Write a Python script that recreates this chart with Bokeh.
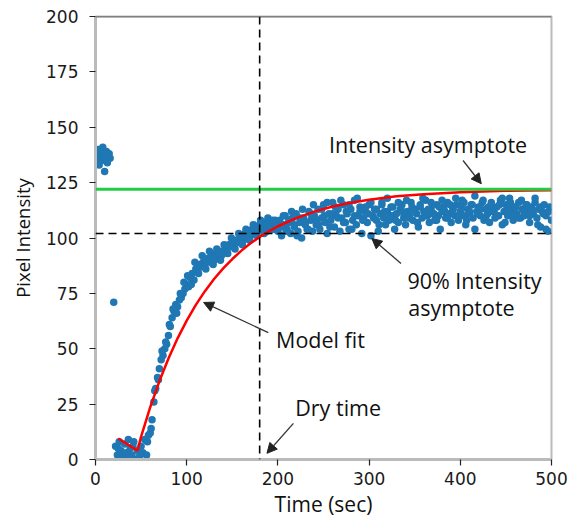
from bokeh.plotting import figure
from bokeh.models import Range1d, FixedTicker, Span, Arrow, NormalHead, Label
from bokeh.embed import file_html
from bokeh.resources import INLINE

# ---- data ----
# initial wet phase (0-20 s)
t_initial = [0, 1, 2, 3, 4, 5, 6, 7, 8, 9, 10, 11, 12, 13, 14, 15, 16, 20]
i_initial = [134, 138, 136, 140, 133, 137, 139, 135, 141, 138, 130, 136, 139, 134, 137, 138, 136, 71]

# lag phase (22-58 s)
t_lag = [22, 24, 26, 28, 30, 32, 34, 36, 38, 40, 42, 44, 46, 48, 50, 52, 54, 56, 58,
         25, 33, 41, 49, 57]
i_lag = [6, 2, 8, 4, 1, 7, 3, 9, 5, 2, 8, 0, 4, 1, 6, 3, 9, 2, 11,
         5, 1, 6, 2, 8]

# rise phase (60-200 s)
t_rise = [60, 62, 64, 66, 68, 70, 72, 74, 76, 78, 80, 82, 84, 86, 88, 90, 92, 94, 96, 98,
          100, 102, 104, 106, 108, 110, 112, 114, 116, 118, 120, 122, 124, 126, 128, 130,
          132, 134, 136, 138, 140, 142, 144, 146, 148, 150, 152, 154, 156, 158, 160, 162,
          164, 166, 168, 170, 172, 174, 176, 178, 180, 182, 184, 186, 188, 190, 192, 194,
          196, 198, 200]
i_rise = [12, 18, 26, 32, 37, 41, 45, 47, 50, 52, 56, 60, 64, 67, 70, 69, 72, 73, 75, 77,
          79, 78, 82, 84, 81, 86, 85, 88, 87, 89, 88, 90, 91, 89, 92, 90,
          93, 91, 94, 92, 93, 95, 94, 97, 96, 98, 97, 99, 98, 100, 101, 99,
          102, 100, 103, 101, 104, 102, 105, 103, 106, 104, 107, 105, 103, 107, 105, 108,
          104, 106, 103]
t_rise_b = [61, 65, 69, 73, 77, 81, 85, 89, 93, 97, 101, 105, 109, 113, 117, 121, 125, 129,
            133, 137, 141, 145, 149, 153, 157, 161, 165, 169, 173, 177, 181, 185, 189, 193, 197]
i_rise_b = [14, 31, 36, 49, 53, 61, 68, 66, 75, 80, 83, 79, 89, 84, 92, 86, 94, 88,
            95, 90, 97, 93, 100, 95, 102, 97, 104, 99, 106, 101, 108, 102, 109, 104, 108]

# plateau phase (202-500 s)
t_plateau = list(range(202, 501, 2))
i_plateau = [108, 101, 106, 110, 104, 107, 102, 109, 105, 111, 103, 107, 100, 109, 106, 104,
             112, 108, 103, 110, 106, 113, 104, 109, 115, 107, 102, 111, 108, 116, 105, 110,
             113, 103, 109, 115, 107, 111, 104, 113, 108, 117, 106, 110, 114, 102, 109, 112,
             107, 115, 101, 110, 113, 108, 103, 111, 116, 109, 106, 112, 108, 114, 110, 104,
             111, 107, 113, 115, 109, 106, 112, 110, 116, 108, 113, 111, 105, 114, 109, 112,
             117, 110, 107, 113, 111, 108, 115, 110, 104, 112, 114, 109, 116, 111, 107, 113,
             110, 115, 108, 112, 117, 110, 106, 113, 111, 115, 109, 104, 112, 114, 110, 116,
             108, 113, 111, 107, 115, 112, 109, 114, 110, 117, 106, 112, 115, 110, 118, 113,
             108, 114, 111, 116, 109, 113, 110, 115, 112, 107, 114, 111, 116, 109, 113, 105,
             112, 115, 110, 103, 114, 108]
t_plateau_b = list(range(203, 500, 3))
i_plateau_b = [105, 110, 103, 108, 112, 106, 101, 109, 113, 107, 104, 111, 115, 108, 106, 113, 110, 116, 105, 111,
               114, 109, 117, 107, 112, 115, 104, 110, 118, 112, 108, 114, 111, 116, 109, 113, 106, 115, 112, 118,
               110, 114, 108, 116, 113, 111, 117, 109, 114, 112, 107, 115, 118, 110, 113, 116, 111, 108, 114, 117,
               112, 109, 115, 113, 118, 110, 114, 116, 108, 112, 115, 119, 111, 113, 117, 109, 114, 116, 112, 110,
               115, 118, 107, 113, 116, 111, 114, 109, 117, 112, 115, 110, 113, 118, 106, 114, 111, 104, 112]

# model fit
fit_t = [25, 46, 50, 60, 70, 80, 90, 100, 110, 120, 130, 140, 150, 160, 170, 180, 190,
         200, 220, 240, 260, 280, 300, 330, 360, 400, 450, 500]
fit_i = [9.5, 4.0, 10.3, 23.6, 35.3, 45.6, 54.7, 62.7, 69.8, 76.0, 81.5, 86.3, 90.5, 94.3,
         97.6, 100.5, 103.0, 105.3, 109.0, 111.9, 114.2, 115.9, 117.3, 118.8, 119.8, 120.7,
         121.3, 121.6]

asymptote = 122
asymptote_90 = 102
dry_time = 180

x_ticks = [0, 100, 200, 300, 400, 500]
y_ticks = [0, 25, 50, 75, 100, 125, 150, 175, 200]

t_all = t_initial + t_lag + t_rise + t_rise_b + t_plateau + t_plateau_b
i_all = i_initial + i_lag + i_rise + i_rise_b + i_plateau + i_plateau_b

# ---- figure ----
p = figure(width=569, height=521, output_backend="svg", toolbar_location=None,
           x_range=Range1d(0, 500), y_range=Range1d(0, 200),
           min_border_left=95, min_border_right=18, min_border_top=16, min_border_bottom=62)
p.background_fill_color = "white"
p.border_fill_color = "white"
p.xgrid.visible = False
p.ygrid.visible = False
p.outline_line_color = "#bbbbbb"
p.outline_line_width = 2

for ax in (p.xaxis[0], p.yaxis[0]):
    ax.axis_line_color = "#bbbbbb"
    ax.axis_line_width = 3
    ax.major_tick_line_color = "#222222"
    ax.major_tick_line_width = 1.2
    ax.major_tick_out = 6
    ax.major_tick_in = 0
    ax.minor_tick_line_color = None
    ax.major_label_text_font = "DejaVu Sans"
    ax.major_label_text_font_size = "17px"
    ax.major_label_text_color = "#1a1a1a"
    ax.axis_label_text_font = "Open Sans"
    ax.axis_label_text_font_style = "normal"
    ax.axis_label_text_color = "#111111"

p.xaxis.axis_label_text_font_size = "21px"
p.yaxis.axis_label_text_font_size = "18.5px"
p.xaxis.ticker = FixedTicker(ticks=x_ticks)
p.yaxis.ticker = FixedTicker(ticks=y_ticks)
p.xaxis.axis_label = "Time (sec)"
p.yaxis.axis_label = "Pixel Intensity"
p.xaxis.major_label_standoff = 6
p.yaxis.major_label_standoff = 11
p.xaxis.axis_label_standoff = 2
p.yaxis.axis_label_standoff = 8

# scatter
p.scatter(t_all, i_all, size=7.5, color="#1f77b4", line_color=None)

# reference lines
p.add_layout(Span(location=asymptote, dimension="width", line_color="#22cc44", line_width=3))
p.add_layout(Span(location=asymptote_90, dimension="width", line_color="black",
                  line_width=1.6, line_dash="8 5"))
p.add_layout(Span(location=dry_time, dimension="height", line_color="black",
                  line_width=1.6, line_dash="8 5"))
p.add_layout(Span(location=200, dimension="width", line_color="#444444", line_width=1.5))

# model fit
p.line(fit_t, fit_i, line_color="red", line_width=2.5)

# annotations
font = "Open Sans"
fs = "21.5px"
for txt, x, y in [("Intensity asymptote", 256, 142),
                  ("90% Intensity", 342, 81),
                  ("asymptote", 343, 68.5),
                  ("Model fit", 198, 54),
                  ("Dry time", 219, 23.5)]:
    p.add_layout(Label(x=x, y=y, text=txt, text_font=font, text_font_size=fs,
                       text_baseline="middle", text_align="left", text_color="#111111"))

for xs, ys, xe, ye in [(403, 135, 423, 124.5),
                       (335, 88.5, 303, 99.8),
                       (189.5, 57.3, 118.5, 70.9),
                       (217, 16.3, 188, 2.8)]:
    p.add_layout(Arrow(end=NormalHead(size=10, fill_color="#222222", line_color="#222222"),
                       x_start=xs, y_start=ys, x_end=xe, y_end=ye,
                       line_color="#333333", line_width=1.3))

open("out.html", "w").write(file_html(p, INLINE))
